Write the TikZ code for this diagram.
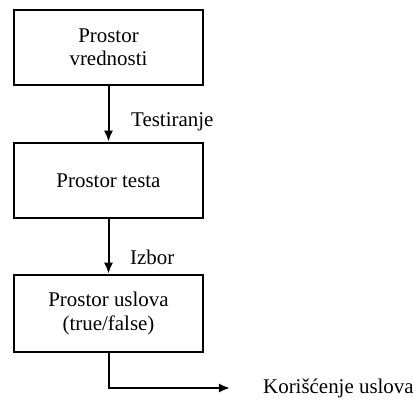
\documentclass[tikz,border=0pt]{standalone}
\usepackage{fontspec}
\setmainfont{Liberation Serif}
\usepackage{tikz}
\usetikzlibrary{arrows.meta}
\usetikzlibrary{positioning}
\tikzset{>={Latex[length=11bp,width=9bp]}}
\tikzset{spacebox/.style = {rectangle, draw=black, line width=2.6bp, minimum width=189bp, minimum height=75bp, align=center, inner sep=2bp}}
\tikzset{flow/.style = {->, draw=black, line width=2bp}}
\tikzset{lbl/.style = {anchor=west, inner sep=0pt}}

\begin{document}
\begin{tikzpicture}[x=1bp, y=-1bp, font=\fontsize{21}{23.5}\selectfont]
\useasboundingbox (0, 0) rectangle (419, 403);
\node [spacebox] (V) at (108.5, 47.5) {Prostor\\vrednosti};
\node [spacebox] (T) at (108.5, 180.5) {Prostor testa};
\node [spacebox, minimum height=77bp] (U) at (108.5, 313.5) {Prostor uslova\\(true/false)};
\node [lbl] (test) at (131, 122) {Testiranje};
\node [lbl] (izb) at (130, 257) {Izbor};
\node [lbl] (kor) at (263, 388) {Korišćenje uslova};
\draw [flow] (V) to (T);
\draw [flow] (T) to (U);
\draw [flow, shorten >=33bp] (U.south) |- (kor.west);
\end{tikzpicture}
\end{document}
